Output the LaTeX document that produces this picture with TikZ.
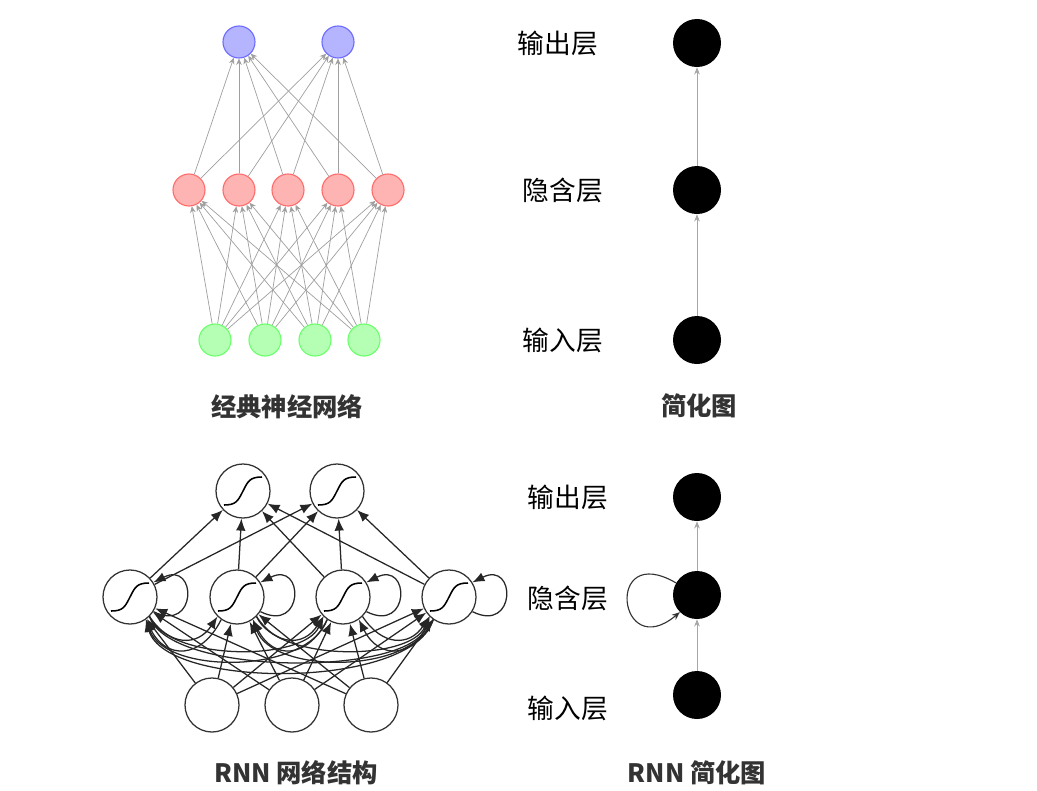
\documentclass[tikz,border=0pt]{standalone}
\usepackage{fontspec}
\setmainfont{Noto Sans CJK SC}
\usepackage{tikz}
\usetikzlibrary{arrows.meta, positioning, calc}
\definecolor{inblue}{RGB}{180, 180, 255}
\definecolor{inred}{RGB}{255, 180, 180}
\definecolor{ingreen}{RGB}{180, 255, 180}

\begin{document}
\begin{tikzpicture}[
    x=0.025cm, y=-0.025cm,
    outnode/.style={circle, draw=inblue!60!blue, thick, fill=inblue,
                    minimum size=0.8cm, inner sep=0pt},
    hidnode/.style={circle, draw=inred!60!red, thick, fill=inred,
                    minimum size=0.8cm, inner sep=0pt},
    innode/.style={circle, draw=ingreen!60!green, thick, fill=ingreen,
                   minimum size=0.8cm, inner sep=0pt},
    blacknode/.style={circle, fill=black, minimum size=1.2cm, inner sep=0pt},
    rnnnode/.style={circle, draw=black!80, line width=0.9pt, fill=white,
                    minimum size=1.35cm, inner sep=0pt},
    layerlabel/.style={font=\fontsize{19}{22}\selectfont},
    title/.style={font=\fontsize{18}{22}\selectfont\bfseries, text=black!80},
    nnarr/.style={-{Stealth[length=1.6mm, width=1.4mm]}, gray!75, line width=0.5pt},
    simarr/.style={-{Stealth[length=1.8mm, width=1.4mm]}, gray!70, line width=0.5pt},
    rnnarr/.style={-{Latex[length=3mm, width=2.4mm]}, black!85, line width=0.9pt},
]
    \useasboundingbox (0,0) rectangle (1037,790);

    % classic network
    \node[outnode] (o1) at (239,42) {};
    \node[outnode] (o2) at (338,42) {};
    \node[hidnode] (h1) at (189,190) {};
    \node[hidnode] (h2) at (239,190) {};
    \node[hidnode] (h3) at (288,190) {};
    \node[hidnode] (h4) at (338,190) {};
    \node[hidnode] (h5) at (388,190) {};
    \node[innode] (i1) at (215,340) {};
    \node[innode] (i2) at (265,340) {};
    \node[innode] (i3) at (315,340) {};
    \node[innode] (i4) at (364,340) {};
    \foreach \i in {1,...,4}
        \foreach \h in {1,...,5}
            \draw[nnarr] (i\i) -- (h\h);
    \foreach \h in {1,...,5}
        \foreach \o in {1,2}
            \draw[nnarr] (h\h) -- (o\o);
    \node[title] (t1) at (287,407) {经典神经网络};

    % simplified
    \node[blacknode] (so) at (697,43) {};
    \node[blacknode] (sh) at (697,190) {};
    \node[blacknode] (si) at (697,340) {};
    \node[layerlabel] (lo) at (558,43) {输出层};
    \node[layerlabel] (lh) at (563,190) {隐含层};
    \node[layerlabel] (li) at (563,340) {输入层};
    \draw[simarr] (si) -- (sh);
    \draw[simarr] (sh) -- (so);
    \node[title] (t2) at (699,406) {简化图};

    % rnn network
    \node[rnnnode] (ro1) at (243,491) {};
    \node[rnnnode] (ro2) at (337,491) {};
    \node[rnnnode] (rh1) at (130,597) {};
    \node[rnnnode] (rh2) at (237,597) {};
    \node[rnnnode] (rh3) at (343,597) {};
    \node[rnnnode] (rh4) at (449,597) {};
    \node[rnnnode] (ri1) at (212,705) {};
    \node[rnnnode] (ri2) at (292,705) {};
    \node[rnnnode] (ri3) at (371,705) {};
    \foreach \n in {ro1,ro2,rh1,rh2,rh3,rh4}
        \draw[line width=1.1pt] ($(\n)+(-19,14)$) .. controls +(12,0) and +(-5,10) .. ($(\n)$)
                     .. controls +(5,-10) and +(-12,0) .. ($(\n)+(19,-14)$);
    \foreach \h in {1,...,4}
        \draw[rnnarr] (rh\h.-32) .. controls +(44,22) and +(44,-22) .. (rh\h.32);
    \foreach \i in {1,2,3}
        \foreach \h in {1,...,4}
            \draw[rnnarr] (ri\i) -- (rh\h);
    \foreach \a/\b/\d in {1/2/30,1/3/45,1/4/60,2/3/30,2/4/45,3/4/30} {
        \draw[rnnarr] (rh\a.-45) .. controls +(20,\d) and +(-20,\d) .. (rh\b.-135);
        \draw[rnnarr] (rh\b.-125) .. controls +(-20,\d+10) and +(20,\d+10) .. (rh\a.-55);
    }
    \foreach \h in {1,...,4}
        \foreach \o in {1,2}
            \draw[rnnarr] (rh\h) -- (ro\o);
    \node[title] (t3) at (296,773) {RNN 网络结构};

    % rnn simplified
    \node[blacknode] (rso) at (697,497) {};
    \node[blacknode] (rsh) at (697,595) {};
    \node[blacknode] (rsi) at (697,695) {};
    \node[layerlabel] (rlo) at (568,497) {输出层};
    \node[layerlabel] (rlh) at (568,598) {隐含层};
    \node[layerlabel] (rli) at (568,708) {输入层};
    \draw[simarr] (rsi) -- (rsh);
    \draw[simarr] (rsh) -- (rso);
    \draw[-{Stealth[length=2mm, width=1.6mm]}, black!80, thick]
        (rsh.150) .. controls +(-72,-42) and +(-62,52) .. (rsh.-135);
    \node[title] (t4) at (697,773) {RNN 简化图};
\end{tikzpicture}
\end{document}
